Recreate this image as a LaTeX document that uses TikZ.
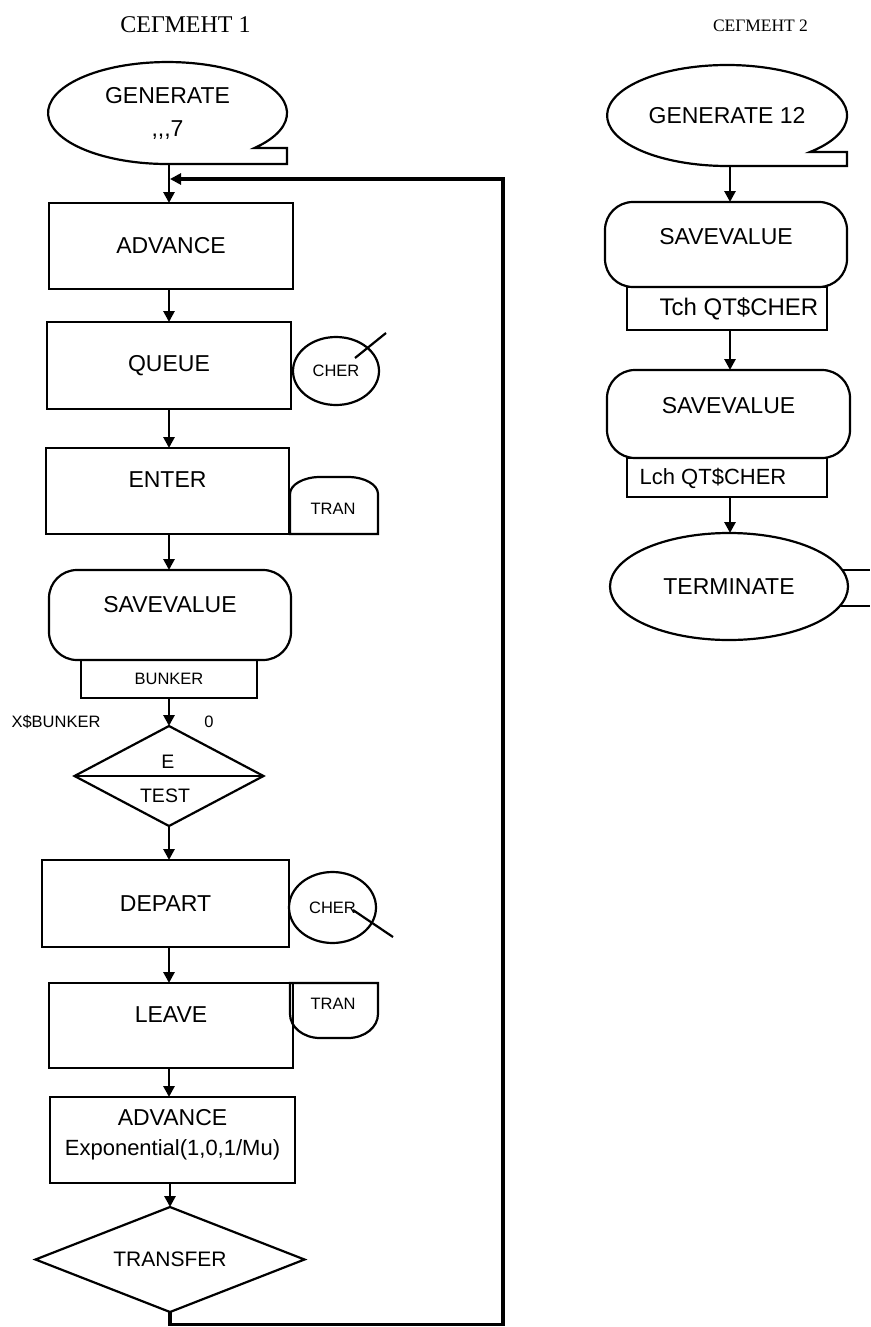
\documentclass[tikz,border=0pt]{standalone}
\usepackage{fontspec}
\setmainfont{Liberation Sans}
\newfontfamily\titlefont{Liberation Serif}
\usetikzlibrary{shapes.geometric,arrows.meta}
\begin{document}
\begin{tikzpicture}[x=1pt,y=-1pt,
 every node/.style={inner sep=0pt,outer sep=0pt},
 box/.style={draw,line width=2.2pt,rectangle},
 rbox/.style={draw,line width=2.2pt,rectangle,rounded corners=28pt},
 oval/.style={draw,line width=2.2pt,ellipse},
 dia/.style={draw,line width=2.2pt,diamond},
 shp/.style={line width=2.2pt},
 arr/.style={line width=2.8pt,-{Triangle[length=11pt,width=11pt]}},
 loopln/.style={line width=3.2pt,-{Triangle[length=11pt,width=11pt]}},
 big/.style={font=\fontsize{23}{33}\selectfont},
 mid/.style={font=\fontsize{19.5}{23}\selectfont},
 small/.style={font=\fontsize{16.5}{20}\selectfont}]
\useasboundingbox[fill=white] (0,0) rectangle (870,1327);

% titles
\node[font=\titlefont\fontsize{24}{28}\selectfont] (t1) at (185.5,25) {СЕГМЕНТ 1};
\node[font=\titlefont\fontsize{17.5}{21}\selectfont] (t2) at (760.5,26) {СЕГМЕНТ 2};

% ---------------- segment 1 ----------------
\coordinate (c1) at (169,0);
\node[ellipse,minimum width=239pt,minimum height=102pt,align=center,big] (gen1) at (167.5,113) {GENERATE\\{,}{,}{,}7};
\draw[shp] (254.5,148) arc[start angle=43.3,end angle=-270,x radius=119.5,y radius=51] -- (287,164) -- (287,148) -- cycle;

\node[box,minimum width=244pt,minimum height=86pt,big] (adv1) at (171,246) {ADVANCE};
\node[box,minimum width=244pt,minimum height=87pt,big] (queue) at (169,365.5) {QUEUE};
\node[oval,minimum width=86pt,minimum height=68pt,small] (cher1) at (336,371) {CHER};
\draw[shp] (355,358) -- (386,333);

\node[box,minimum width=243pt,minimum height=86pt] (enter) at (167.5,491) {};
\node[big] (entert) at (167.5,480) {ENTER};
\draw[shp] (290,534) -- (290,494) arc[start angle=180,end angle=270,x radius=30,y radius=17] -- (348,477) arc[start angle=270,end angle=360,x radius=30,y radius=17] -- (378,534) -- cycle;
\node[small] (tran1) at (333,509) {TRAN};

\node[rbox,minimum width=242pt,minimum height=90pt] (sv1) at (170,615) {};
\node[big] (sv1t) at (170,605) {SAVEVALUE};
\node[box,minimum width=176pt,minimum height=38pt,small] (bunker) at (169,679) {BUNKER};

\node[small] (xb) at (56,722) {X\$BUNKER};
\node[small] (zero) at (209,722) {0};
\node[dia,aspect=1.9,minimum width=189pt,minimum height=100pt] (test) at (169,776) {};
\draw[shp] (test.west) -- (test.east);
\node[mid] (teste) at (168,762) {E};
\node[mid] (testt) at (165,796) {TEST};

\node[box,minimum width=247pt,minimum height=87pt,big] (depart) at (165.5,903.5) {DEPART};
\node[oval,minimum width=87pt,minimum height=71pt,small] (cher2) at (332.5,907.5) {CHER};
\draw[shp] (353,910) -- (393,937);

\node[box,minimum width=244pt,minimum height=85pt] (leave) at (171,1025.5) {};
\node[big] (leavet) at (171,1015) {LEAVE};
\draw[shp] (290,983) -- (378,983) -- (378,1014) arc[start angle=0,end angle=90,x radius=30,y radius=24] -- (320,1038) arc[start angle=90,end angle=180,x radius=30,y radius=24] -- cycle;
\node[small] (tran2) at (333,1004) {TRAN};

\node[box,minimum width=245pt,minimum height=86pt] (adv2) at (172.5,1140) {};
\node[big] (adv2t) at (172.5,1118) {ADVANCE};
\node[font=\fontsize{22}{26}\selectfont] (adv2e) at (172.5,1150) {Exponential(1,0,1/Mu)};

\node[dia,aspect=2.56,minimum width=269pt,minimum height=105pt,font=\fontsize{21}{25}\selectfont] (transfer) at (170,1259.5) {TRANSFER};

% connectors segment 1
\draw[arr] (gen1.south -| c1) -- (adv1.north -| c1);
\draw[arr] (adv1.south -| c1) -- (queue.north -| c1);
\draw[arr] (queue.south -| c1) -- (enter.north -| c1);
\draw[arr] (enter.south -| c1) -- (sv1.north -| c1);
\draw[arr] (bunker.south -| c1) -- (test.north);
\draw[arr] (test.south) -- (depart.north -| c1);
\draw[arr] (depart.south -| c1) -- (leave.north -| c1);
\draw[arr] (leave.south -| c1) -- (adv2.north -| c1);
\draw[arr] (adv2.south -| transfer) -- (transfer.north);
\coordinate (corner1) at (503,1324.5);
\coordinate (corner2) at (503,179);
\coordinate (join) at (170,179);
\draw[loopln] (transfer.south) |- (corner1) -- (corner2) -- (join);

% ---------------- segment 2 ----------------
\coordinate (c2) at (730,0);
\node[ellipse,minimum width=240pt,minimum height=101pt,big] (gen2) at (727,115.5) {GENERATE 12};
\draw[shp] (810,152) arc[start angle=46.3,end angle=-270,x radius=120,y radius=50.5] -- (847,166) -- (847,152) -- cycle;

\node[rbox,minimum width=242pt,minimum height=85pt] (sv2a) at (726,244.5) {};
\node[big] (sv2at) at (726,237) {SAVEVALUE};
\node[box,minimum width=200pt,minimum height=43pt] (tch) at (727,308.5) {};
\node[font=\fontsize{24}{28}\selectfont] (tcht) at (739,309) {Tch QT\$CHER};

\node[rbox,minimum width=243pt,minimum height=88pt] (sv2b) at (728.5,414) {};
\node[big] (sv2bt) at (728.5,406) {SAVEVALUE};
\node[box,minimum width=200pt,minimum height=39pt] (lch) at (727,477.5) {};
\node[font=\fontsize{22}{26}\selectfont] (lcht) at (713,478) {Lch QT\$CHER};

\node[oval,minimum width=238pt,minimum height=107pt,big] (term) at (729,586.5) {TERMINATE};
\draw[shp] (842,570) -- (870,570);
\draw[shp] (840,606) -- (870,606);

% connectors segment 2
\draw[arr] (gen2.south -| c2) -- (sv2a.north -| c2);
\draw[arr] (tch.south -| c2) -- (sv2b.north -| c2);
\draw[arr] (lch.south -| c2) -- (term.north -| c2);
\end{tikzpicture}
\end{document}
